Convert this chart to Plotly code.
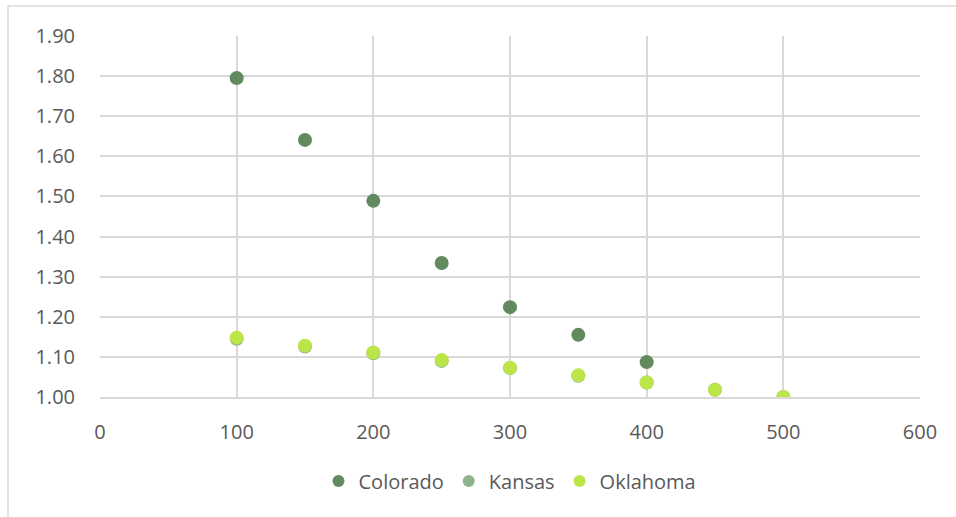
import plotly.graph_objects as go

# Values per state at each x position
x_colorado = [100, 150, 200, 250, 300, 350, 400]
colorado = [1.795, 1.641, 1.489, 1.334, 1.224, 1.155, 1.087]

x_kansas = [100, 150, 200, 250, 300, 350, 400, 450, 500]
kansas = [1.145, 1.126, 1.109, 1.090, 1.072, 1.053, 1.036, 1.018, 1.000]

x_oklahoma = [100, 150, 200, 250, 300, 350, 400, 450, 500]
oklahoma = [1.148, 1.128, 1.111, 1.092, 1.073, 1.054, 1.036, 1.018, 1.000]

x_ticks = [0, 100, 200, 300, 400, 500, 600]
y_ticks = [1.00, 1.10, 1.20, 1.30, 1.40, 1.50, 1.60, 1.70, 1.80, 1.90]

W, H = 956, 517
L, R, T, B = 100, 36, 36, 120
pw = W - L - R
ph = H - T - B


def px_to_paper_x(px):
    return (px - L) / pw


def py_to_paper_y(py):
    return (H - B - py) / ph


fig = go.Figure()
for name, xs, ys, color in [
    ("Colorado", x_colorado, colorado, "#618b5f"),
    ("Kansas", x_kansas, kansas, "#8fb38b"),
    ("Oklahoma", x_oklahoma, oklahoma, "#bce549"),
]:
    fig.add_trace(go.Scatter(
        x=xs, y=ys, name=name, mode="markers",
        marker=dict(size=14, color=color, line=dict(width=0)),
    ))

# outer chart frame (left and top edges fall inside the page)
fig.add_shape(type="rect", xref="paper", yref="paper",
              x0=px_to_paper_x(8), x1=px_to_paper_x(W + 10),
              y0=py_to_paper_y(H + 10), y1=py_to_paper_y(6),
              line=dict(color="#d9d9d9", width=1.5), layer="below")

fig.update_layout(
    width=W, height=H,
    margin=dict(l=L, r=R, t=T, b=B),
    paper_bgcolor="white", plot_bgcolor="white",
    font=dict(family="Open Sans, Liberation Sans, sans-serif", color="#595959", size=20),
    showlegend=True,
    legend=dict(orientation="h", x=0.5, xanchor="center", y=py_to_paper_y(481), yanchor="middle",
                font=dict(size=20, color="#595959"), itemsizing="constant",
                traceorder="normal"),
    xaxis=dict(range=[0, 600], tickvals=x_ticks, ticktext=[str(v) for v in x_ticks],
               showgrid=True, gridcolor="#d9d9d9", gridwidth=1.5,
               zeroline=False, showline=True, linecolor="#d9d9d9", linewidth=1.5,
               mirror=False, ticks="", ticklabelstandoff=16, tickfont=dict(size=20)),
    yaxis=dict(range=[1.0, 1.9], tickvals=y_ticks, ticktext=[f"{v:.2f}" for v in y_ticks],
               showgrid=True, gridcolor="#d9d9d9", gridwidth=1.5,
               zeroline=False, showline=False, ticks="", ticklabelstandoff=24,
               tickfont=dict(size=20)),
)

fig.write_html("out.html")
